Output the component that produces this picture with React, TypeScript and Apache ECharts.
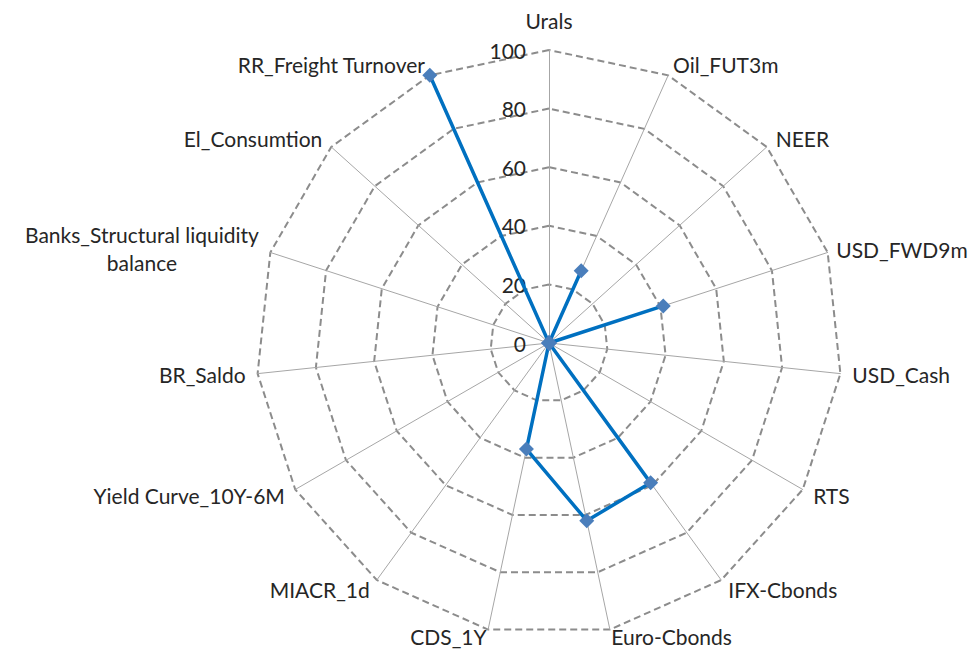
import React, { useEffect, useRef } from "react";
import * as echarts from "echarts";

// Indicators in clockwise order starting from the top
const indicators: string[] = [
  "Urals",
  "Oil_FUT3m",
  "NEER",
  "USD_FWD9m",
  "USD_Cash",
  "RTS",
  "IFX-Cbonds",
  "Euro-Cbonds",
  "CDS_1Y",
  "MIACR_1d",
  "Yield Curve_10Y-6M",
  "BR_Saldo",
  "Banks_Structural liquidity\nbalance",
  "El_Consumtion",
  "RR_Freight Turnover",
];
const values: number[] = [0, 27, 0, 41, 0, 0, 59, 62, 37, 0, 0, 0, 0, 0, 100];
const axisMax = 100;
const axisTicks: number[] = [0, 20, 40, 60, 80, 100];

export default function App() {
  const ref = useRef<HTMLDivElement>(null);
  useEffect(() => {
    document.body.style.margin = "0";
    if (!ref.current) return;
    const chart = echarts.init(ref.current, null, { renderer: "svg" });
    // ECharts radar goes counter-clockwise; reorder so it reads clockwise
    const order = [0, ...indicators.map((_, i) => i).slice(1).reverse()];
    const font = "Lato, 'Open Sans', sans-serif";
    const gapFor = (name: string) =>
      name === "Urals"
        ? 19
        : name === "CDS_1Y" || name === "Euro-Cbonds"
        ? 7
        : name === "USD_FWD9m"
        ? 9
        : 12;
    chart.setOption({
      animation: false,
      radar: {
        center: [549, 343],
        radius: 293,
        startAngle: 90,
        splitNumber: axisTicks.length - 1,
        shape: "polygon",
        axisName: {
          color: "#262626",
          fontSize: 21,
          fontFamily: font,
          formatter: (name: string) =>
            name.includes("\n")
              ? name
                  .split("\n")
                  .map((l) => "{c|" + l + "}")
                  .join("\n")
              : name,
          rich: {
            c: {
              align: "center",
              color: "#262626",
              fontSize: 21,
              fontFamily: font,
              lineHeight: 28,
            },
          },
        },
        nameGap: 12,
        axisLine: { lineStyle: { color: "#a6a6a6", width: 1 } },
        splitLine: {
          lineStyle: { color: "#8c8c8c", width: 2, type: [7, 4] },
        },
        splitArea: { show: false },
        axisTick: { show: false },
        axisLabel: { show: false },
        indicator: order.map((i) => ({
          name: indicators[i],
          min: 0,
          max: axisMax,
          nameGap: gapFor(indicators[i]),
          ...(i === 0
            ? {
                axisLabel: {
                  show: true,
                  color: "#262626",
                  fontSize: 21,
                  fontFamily: font,
                  margin: 23,
                  formatter: (v: number) => (axisTicks.includes(v) ? String(v) : ""),
                },
              }
            : {}),
        })),
      },
      series: [
        {
          type: "radar",
          symbol: "diamond",
          symbolSize: 15,
          lineStyle: { color: "#0070C0", width: 3.5 },
          itemStyle: { color: "#4a7ebb" },
          data: [{ value: order.map((i) => values[i]) }],
        },
      ],
    });
    return () => chart.dispose();
  }, []);
  return <div ref={ref} style={{ width: 973, height: 652 }} />;
}
